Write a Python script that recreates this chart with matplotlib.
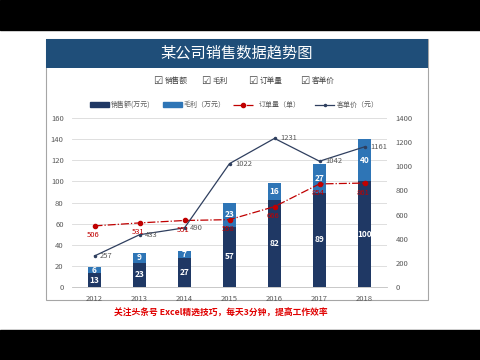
import numpy as np
import matplotlib.pyplot as plt
from matplotlib.patches import Rectangle
from matplotlib.lines import Line2D

plt.rcParams['font.family'] = ['Noto Sans CJK SC', 'DejaVu Sans']

years = ['2012', '2013', '2014', '2015', '2016', '2017', '2018']
sales = [13, 23, 27, 57, 82, 89, 100]        # 销售额(万元)
profit = [6, 9, 7, 23, 16, 27, 40]          # 毛利（万元）
orders = [506, 531, 551, 558, 666, 854, 861]  # 订单量（单）
price = [257, 433, 490, 1022, 1231, 1042, 1161]  # 客单价（元）

c_sales = '#1f3864'
c_profit = '#2e75b6'
c_order = '#c00000'
c_price = '#2f3f5f'
c_tick = '#595959'

fig = plt.figure(figsize=(4.8, 3.6), dpi=100)

# black bars top / bottom
fig.add_artist(Rectangle((0, 330 / 360), 1, 30 / 360, transform=fig.transFigure,
                         color='black', zorder=-5))
fig.add_artist(Rectangle((0, 0), 1, 30 / 360, transform=fig.transFigure, color='black', zorder=-5))

# chart frame and title band
fig.add_artist(Rectangle((46 / 480, 60 / 360), 382 / 480, 261 / 360, transform=fig.transFigure,
                         facecolor='white', edgecolor='#a6a6a6', lw=0.8, zorder=-5))
fig.add_artist(Rectangle((46 / 480, 292 / 360), 382 / 480, 29 / 360, transform=fig.transFigure,
                         facecolor='#1f4e79', edgecolor='none', zorder=-4))
fig.text(237 / 480, 307 / 360, '某公司销售数据趋势图', color='white', fontsize=11,
         ha='center', va='center')

# checkbox row
for xb, lab in zip([158, 206, 253, 305], ['销售额', '毛利', '订单量', '客单价']):
    fig.text(xb / 480, 279 / 360, '☑', fontsize=7.5, ha='center', va='center',
             family=['DejaVu Sans'], color='#404040')
    fig.text((xb + 7) / 480, 279 / 360, lab, fontsize=5.5, ha='left', va='center', color='#404040')

# legend row
ly = 255 / 360
fig.add_artist(Rectangle((90 / 480, ly - 2.5 / 360), 19 / 480, 5 / 360, transform=fig.transFigure,
                         color=c_sales))
fig.text(111 / 480, ly, '销售额(万元)', fontsize=5, va='center', color=c_tick)
fig.add_artist(Rectangle((163 / 480, ly - 2.5 / 360), 19 / 480, 5 / 360, transform=fig.transFigure,
                         color=c_profit))
fig.text(184 / 480, ly, '毛利（万元）', fontsize=5, va='center', color=c_tick)
fig.add_artist(Line2D([233 / 480, 253 / 480], [ly, ly], transform=fig.transFigure, color=c_order,
                      lw=0.9, ls='-.'))
fig.add_artist(Line2D([243 / 480], [ly], transform=fig.transFigure, color=c_order,
                      marker='o', ms=3))
fig.text(259 / 480, ly, '订单量（单）', fontsize=5, va='center', color=c_tick)
fig.add_artist(Line2D([315 / 480, 334 / 480], [ly, ly], transform=fig.transFigure, color=c_price,
                      lw=0.9))
fig.add_artist(Line2D([324.5 / 480], [ly], transform=fig.transFigure, color=c_price,
                      marker='o', ms=1.5))
fig.text(337 / 480, ly, '客单价（元）', fontsize=5, va='center', color=c_tick)

# main axes
ax = fig.add_axes([72 / 480, 73 / 360, 315 / 480, 169 / 360])
ax2 = ax.twinx()
ax.set_zorder(1)
ax2.set_zorder(2)
x = np.arange(len(years))
w = 0.28

ax.bar(x, sales, w, color=c_sales, zorder=2)
ax.bar(x, profit, w, bottom=sales, color=c_profit, zorder=2)
for xi, s, p in zip(x, sales, profit):
    ax.text(xi, s / 2, str(s), color='white', fontsize=6, fontweight='bold',
            ha='center', va='center', zorder=3)
    ax.text(xi, s + p / 2, str(p), color='white', fontsize=6, fontweight='bold',
            ha='center', va='center', zorder=3)

ax.set_xlim(-0.5, len(years) - 0.5)
ax.set_ylim(0, 160)
ax.set_yticks(np.arange(0, 161, 20))
ax.set_xticks(x)
ax.set_xticklabels(years)
ax.grid(axis='y', color='#d9d9d9', lw=0.6, zorder=0)
ax.set_axisbelow(True)

ax2.set_ylim(0, 1400)
ax2.set_yticks(np.arange(0, 1401, 200))
ax2.plot(x, orders, color=c_order, ls='-.', lw=0.9, marker='o', ms=3, zorder=4)
ax2.plot(x, price, color=c_price, lw=0.9, marker='o', ms=1.5, zorder=4)
for xi, o in zip(x, orders):
    ax2.annotate(str(o), (xi, o), xytext=(-1, -4), textcoords='offset points',
                 color=c_order, fontsize=5.5, ha='center', va='top', zorder=5)
for xi, pr in zip(x, price):
    ax2.annotate(str(pr), (xi, pr), xytext=(4, 0), textcoords='offset points',
                 color=c_tick, fontsize=5.5, ha='left', va='center', zorder=5)

for a in (ax, ax2):
    for sp in a.spines.values():
        sp.set_visible(False)
    a.tick_params(length=0, labelsize=5.5, labelcolor=c_tick, pad=6)
ax.spines['bottom'].set_visible(True)
ax.spines['bottom'].set_color('#bfbfbf')
ax.spines['bottom'].set_linewidth(0.6)
ax.patch.set_visible(False)
ax2.patch.set_visible(False)

fig.text(221 / 480, 47 / 360, '关注头条号 Excel精选技巧，每天3分钟，提高工作效率',
         color='#e00000', fontsize=6.3, fontweight='bold', ha='center', va='center')

fig.savefig('out.png', dpi=100)
